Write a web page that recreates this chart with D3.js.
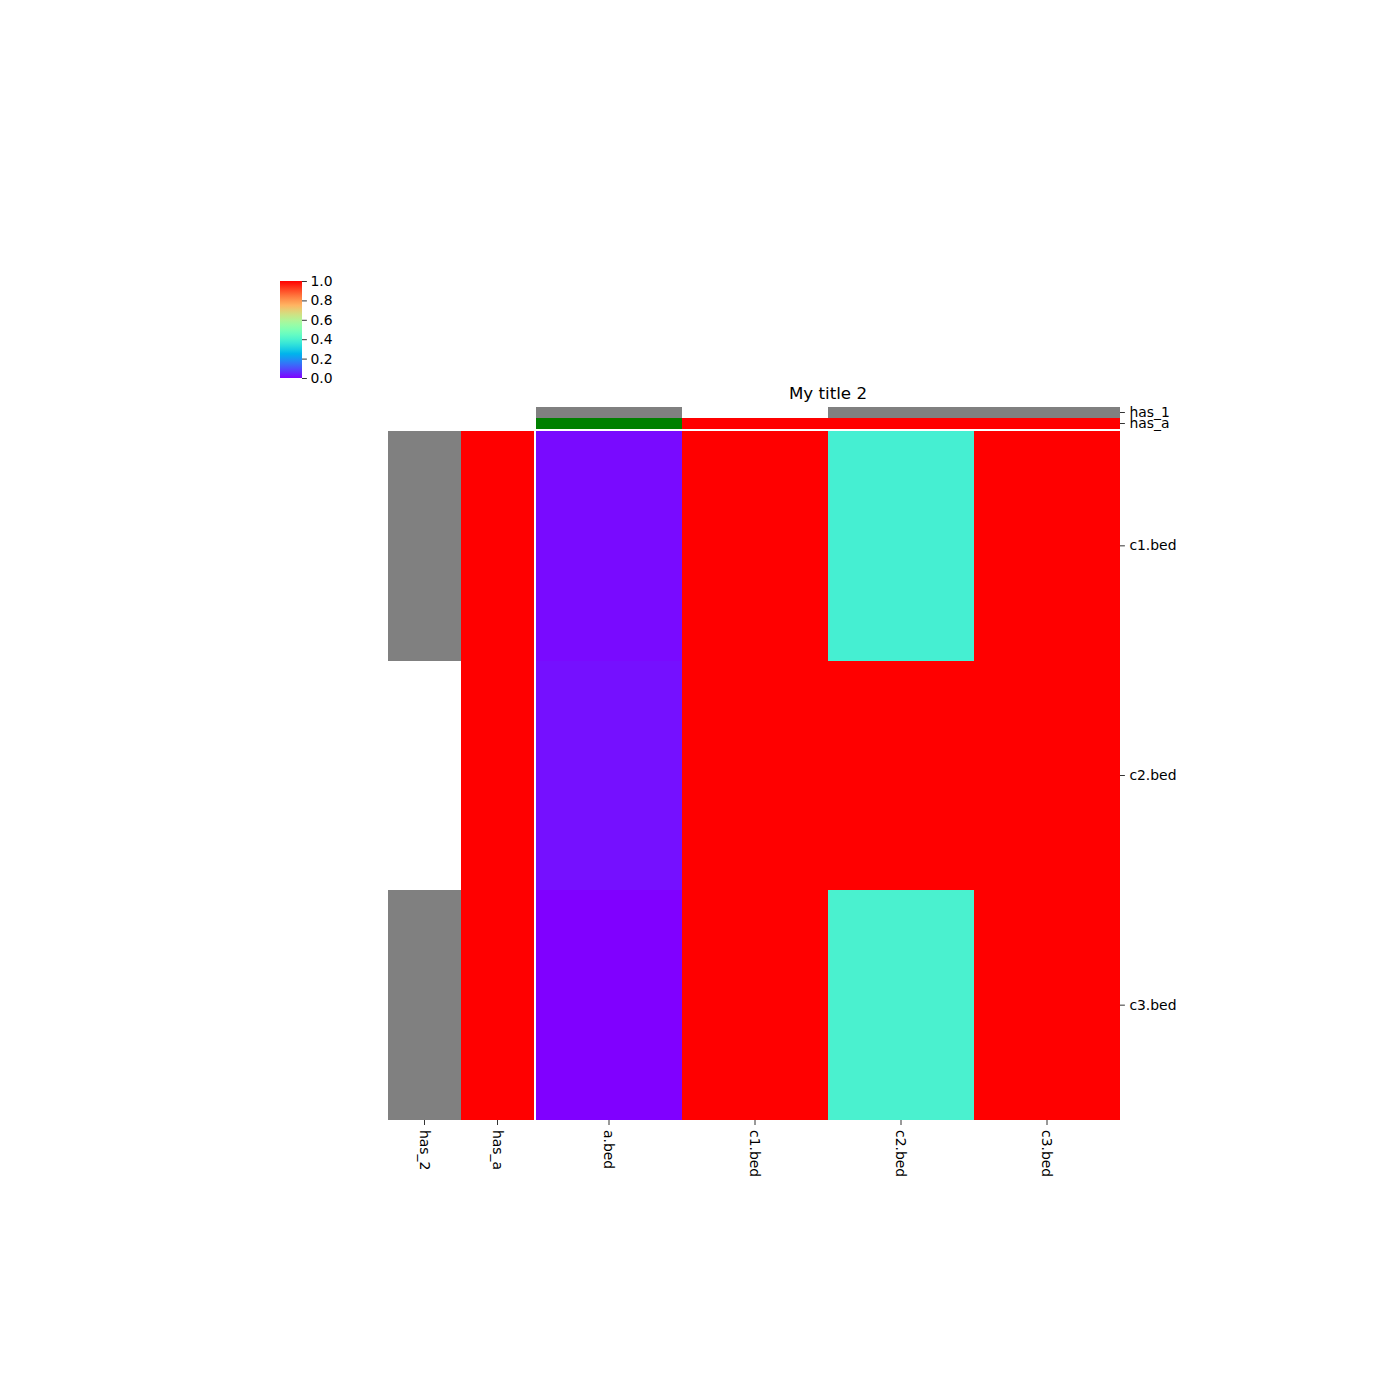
<!DOCTYPE html>
<html><head><meta charset="utf-8">
<script src="https://cdn.jsdelivr.net/npm/d3@7"></script>
<style>body{margin:0;background:#fff}svg{display:block}text{font-family:"DejaVu Sans",sans-serif;fill:#000}</style>
</head><body>
<script>
const rows = ["c1.bed", "c2.bed", "c3.bed"];
const cols = ["a.bed", "c1.bed", "c2.bed", "c3.bed"];
const values = [
  [0.012, 1.0, 0.385, 1.0],
  [0.02, 1.0, 1.0, 1.0],
  [0.0, 1.0, 0.395, 1.0]
];
const rowAnnotNames = ["has_2", "has_a"];
const rowAnnotColors = [
  ["#808080", "#ff0000"],
  [null, "#ff0000"],
  ["#808080", "#ff0000"]
];
const colAnnotNames = ["has_1", "has_a"];
const colAnnotColors = [
  ["#808080", null, "#808080", "#808080"],
  ["#008000", "#ff0000", "#ff0000", "#ff0000"]
];
const cbTicks = [0, 0.2, 0.4, 0.6, 0.8, 1.0];
const title = "My title 2";

function rainbow(t) {
  const c = v => Math.max(0, Math.min(1, v));
  const r = c(Math.abs(2 * t - 0.5));
  const g = c(Math.sin(Math.PI * t));
  const b = c(Math.cos(Math.PI * t / 2));
  return d3.rgb(r * 255, g * 255, b * 255).formatHex();
}

const W = 1400, H = 1400;
const svg = d3.select("body").append("svg").attr("width", W).attr("height", H);

const x = d3.scaleBand().domain(cols).range([536, 1120]);
const y = d3.scaleBand().domain(rows).range([431, 1120]);
const xr = d3.scaleBand().domain(rowAnnotNames).range([388, 534]);
const yc = d3.scaleBand().domain(colAnnotNames).range([407, 429]);
const color = d3.scaleSequential(rainbow).domain([0, 1]);

// main heatmap
const cells = [];
rows.forEach((r, i) => cols.forEach((c, j) => cells.push({r, c, v: values[i][j]})));
svg.append("g").selectAll("rect").data(cells).join("rect")
  .attr("x", d => x(d.c)).attr("y", d => y(d.r))
  .attr("width", x.bandwidth()).attr("height", y.bandwidth())
  .attr("fill", d => color(d.v)).attr("shape-rendering", "crispEdges");

// row annotations
const rcells = [];
rows.forEach((r, i) => rowAnnotNames.forEach((a, j) => { if (rowAnnotColors[i][j]) rcells.push({r, a, col: rowAnnotColors[i][j]}); }));
svg.append("g").selectAll("rect").data(rcells).join("rect")
  .attr("x", d => xr(d.a)).attr("y", d => y(d.r))
  .attr("width", xr.bandwidth()).attr("height", y.bandwidth())
  .attr("fill", d => d.col).attr("shape-rendering", "crispEdges");

// col annotations
const ccells = [];
colAnnotNames.forEach((a, i) => cols.forEach((c, j) => { if (colAnnotColors[i][j]) ccells.push({a, c, col: colAnnotColors[i][j]}); }));
svg.append("g").selectAll("rect").data(ccells).join("rect")
  .attr("x", d => x(d.c)).attr("y", d => yc(d.a))
  .attr("width", x.bandwidth()).attr("height", yc.bandwidth())
  .attr("fill", d => d.col).attr("shape-rendering", "crispEdges");

// bottom axis labels
const bottomItems = rowAnnotNames.map(n => ({n, cx: xr(n) + xr.bandwidth() / 2}))
  .concat(cols.map(n => ({n, cx: x(n) + x.bandwidth() / 2})));
const bg = svg.append("g");
bg.selectAll("line").data(bottomItems).join("line")
  .attr("x1", d => d.cx).attr("x2", d => d.cx).attr("y1", 1120).attr("y2", 1125)
  .attr("stroke", "#000").attr("stroke-width", 0.8);
bg.selectAll("text").data(bottomItems).join("text")
  .attr("transform", d => `translate(${d.cx},1130) rotate(90)`)
  .attr("dy", "0.35em").attr("font-size", 13.9).text(d => d.n);

// right axis for rows
const ry = d3.axisRight(y).tickSize(4.9).tickPadding(4.5);
const rg = svg.append("g").attr("transform", "translate(1120,0)").call(ry);
rg.select(".domain").remove();
rg.selectAll("text").attr("font-size", 13.9).attr("font-family", "DejaVu Sans");
rg.selectAll("line").attr("stroke-width", 0.8);

// right axis for column annotations
const cy = d3.axisRight(yc).tickSize(4.9).tickPadding(4.5);
const cg = svg.append("g").attr("transform", "translate(1120,0)").call(cy);
cg.select(".domain").remove();
cg.selectAll("text").attr("font-size", 13.9).attr("font-family", "DejaVu Sans");
cg.selectAll("line").attr("stroke-width", 0.8);

// title
svg.append("text").attr("x", (x.range()[0] + x.range()[1]) / 2).attr("y", 399)
  .attr("text-anchor", "middle").attr("font-size", 16.7).text(title);

// colorbar
const cbY = d3.scaleLinear().domain([0, 1]).range([378, 281]);
const defs = svg.append("defs");
const grad = defs.append("linearGradient").attr("id", "cbg").attr("x1", 0).attr("y1", 1).attr("x2", 0).attr("y2", 0);
d3.range(0, 1.0001, 0.05).forEach(t => grad.append("stop").attr("offset", t).attr("stop-color", color(t)));
svg.append("rect").attr("x", 280).attr("y", cbY(1)).attr("width", 22).attr("height", cbY(0) - cbY(1)).attr("fill", "url(#cbg)");
const cba = d3.axisRight(cbY).tickValues(cbTicks).tickFormat(d3.format(".1f")).tickSize(4.9).tickPadding(3.5);
const cbg = svg.append("g").attr("transform", "translate(302,0)").call(cba);
cbg.select(".domain").remove();
cbg.selectAll("text").attr("font-size", 13.9).attr("font-family", "DejaVu Sans");
cbg.selectAll("line").attr("stroke-width", 0.8);
</script>
</body></html>
